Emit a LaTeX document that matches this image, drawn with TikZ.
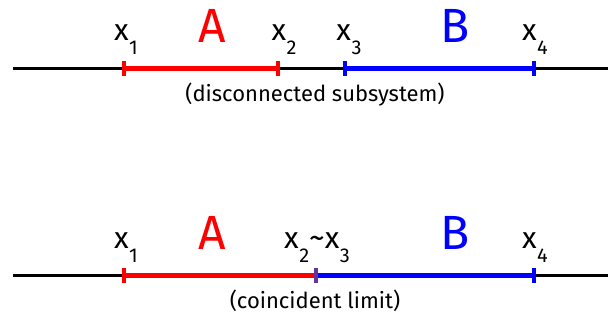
\documentclass[tikz,border=0pt]{standalone}
\usepackage{fontspec}
\setmainfont{Fira Sans}
\usetikzlibrary{positioning}
\definecolor{SegRed}{RGB}{255,0,0}
\definecolor{SegBlue}{RGB}{0,0,255}
\definecolor{SegMix}{RGB}{102,51,153}
\newcommand{\xsub}[1]{x\kern0.5pt\raisebox{-14pt}{\fontsize{20}{20}\selectfont #1}}

\begin{document}
\begin{tikzpicture}[x=1pt, y=-1pt,
  axisline/.style={line width=3pt, black},
  segline/.style={line width=5pt},
  tickmark/.style={line width=4pt},
  ptlabel/.style={font=\fontsize{30}{30}\selectfont, anchor=base, inner sep=0pt},
  setlabel/.style={font=\fontsize{48}{48}\selectfont, anchor=base, inner sep=0pt},
  caption/.style={font=\fontsize{22}{22}\selectfont, anchor=base, inner sep=0pt}]
  \useasboundingbox (0,0) rectangle (608,320);

  % Top: disconnected subsystem
  \coordinate (L) at (13,69);
  \coordinate (R) at (608,69);
  \coordinate (x1) at (124,69);
  \coordinate (x2) at (278,69);
  \coordinate (x3) at (345,69);
  \coordinate (x4) at (534,69);
  \draw[axisline] (L) -- (R);
  \draw[segline, SegRed] (x1) -- (x2);
  \draw[segline, SegBlue] (x3) -- (x4);
  \draw[tickmark, SegRed] ([yshift=7.5pt]x1) -- ([yshift=-7.5pt]x1);
  \draw[tickmark, SegRed] ([yshift=7.5pt]x2) -- ([yshift=-7.5pt]x2);
  \draw[tickmark, SegBlue] ([yshift=7.5pt]x3) -- ([yshift=-7.5pt]x3);
  \draw[tickmark, SegBlue] ([yshift=7.5pt]x4) -- ([yshift=-7.5pt]x4);
  \node[ptlabel] (lx1) at (126,41) {\xsub{1}};
  \node[ptlabel] (lx2) at (284,41) {\xsub{2}};
  \node[ptlabel] (lx3) at (349,41) {\xsub{3}};
  \node[ptlabel] (lx4) at (535,41) {\xsub{4}};
  \node[setlabel, SegRed] (lA) at (212,43) {A};
  \node[setlabel, SegBlue] (lB) at (455,43) {B};
  \node[caption] (cap1) at (315,102) {(disconnected subsystem)};

  % Bottom: coincident limit
  \coordinate (L') at (13,276);
  \coordinate (R') at (608,276);
  \coordinate (y1) at (124,276);
  \coordinate (y23) at (316,276);
  \coordinate (y4) at (534,276);
  \draw[axisline] (L') -- (R');
  \draw[segline, SegRed] (y1) -- (y23);
  \draw[segline, SegBlue] (y23) -- (y4);
  \draw[tickmark, SegRed] ([yshift=7.5pt]y1) -- ([yshift=-7.5pt]y1);
  \draw[tickmark, SegMix] ([yshift=7.5pt]y23) -- ([yshift=-7.5pt]y23);
  \draw[tickmark, SegBlue] ([yshift=7.5pt]y4) -- ([yshift=-7.5pt]y4);
  \node[ptlabel] (ly1) at (126,249) {\xsub{1}};
  \node[ptlabel] (ly23) at (317,249)
    {\xsub{2}{\fontsize{32}{32}\selectfont\textasciitilde}\xsub{3}};
  \node[ptlabel] (ly4) at (535,249) {\xsub{4}};
  \node[setlabel, SegRed] (mA) at (212,250) {A};
  \node[setlabel, SegBlue] (mB) at (455,250) {B};
  \node[caption] (cap2) at (315,309) {(coincident limit)};
\end{tikzpicture}
\end{document}
